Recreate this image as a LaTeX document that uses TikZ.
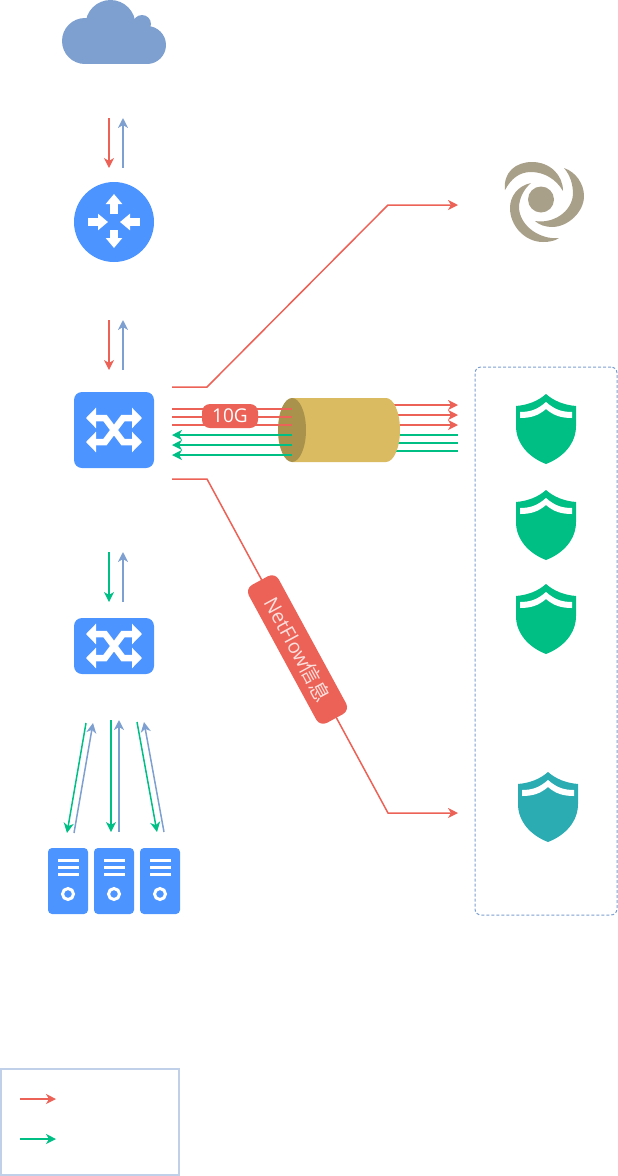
\documentclass[tikz,border=0pt]{standalone}
\usepackage{fontspec}
\setmainfont{Open Sans}
\newfontfamily\cjk{Noto Sans CJK SC}
\usetikzlibrary{arrows.meta,shapes.geometric}
\definecolor{netblue}{HTML}{4C94FF}
\definecolor{softblue}{HTML}{7EA0D0}
\definecolor{linkred}{HTML}{EC6257}
\definecolor{linkgreen}{HTML}{00BF85}
\definecolor{shieldteal}{HTML}{2BACB3}
\definecolor{swirlgrey}{HTML}{A9A08A}
\definecolor{pipegold}{HTML}{DABB62}
\definecolor{pipedark}{HTML}{A8924C}
\definecolor{legendline}{HTML}{BFD0E8}
\tikzset{
  flow/.style={line width=1.5pt,-{Stealth[length=10pt,width=10pt,inset=3pt]}},
  redflow/.style={flow,draw=linkred,color=linkred},
  greenflow/.style={flow,draw=linkgreen,color=linkgreen},
  blueflow/.style={flow,draw=softblue,color=softblue},
  redline/.style={line width=1.5pt,draw=linkred},
  greenline/.style={line width=1.5pt,draw=linkgreen},
  switchbox/.style={fill=netblue,rounded corners=8pt,minimum width=80pt,inner sep=0pt},
  serverbox/.style={fill=netblue,rounded corners=4pt,minimum width=40pt,minimum height=66pt,inner sep=0pt},
  tagbox/.style={fill=linkred,text=white,rounded corners=8pt,inner sep=0pt},
  whitearrow/.style={draw=white,line width=8pt,-{Triangle[length=10pt,width=16pt]}},
  crossarrow/.style={draw=white,line width=6.5pt,{Triangle[length=10pt,width=20pt]}-{Triangle[length=10pt,width=20pt]}},
  pics/crossglyph/.style={code={
    \draw[crossarrow] (-28,-#1) -- (-9,-#1) -- (9,#1) -- (28,#1);
    \draw[crossarrow] (-28,#1) -- (-9,#1) -- (9,-#1) -- (28,-#1);
  }},
  pics/shieldglyph/.style={code={
    \fill[#1] (0,-35) .. controls (-8,-28) and (-18,-24) .. (-30,-23) -- (-30,-3)
      .. controls (-30,14) and (-18,28) .. (0,35)
      .. controls (18,28) and (30,14) .. (30,-3) -- (30,-23)
      .. controls (18,-24) and (8,-28) .. (0,-35) -- cycle;
    \fill[white] (-26,-17) .. controls (-15,-17) and (-8,-20) .. (0,-27)
      .. controls (8,-20) and (15,-17) .. (26,-17) -- (26,-11)
      .. controls (14,-11) and (7,-14) .. (0,-20)
      .. controls (-7,-14) and (-14,-11) .. (-26,-11) -- cycle;
  }}
}
\begin{document}
\begin{tikzpicture}[x=1pt,y=-1pt]
  \useasboundingbox (0,0) rectangle (618,1176);
  % free ends
  \draw
    (109,118) coordinate (a1) (109,168) coordinate (a2)
    (123,168) coordinate (b1) (123,118) coordinate (b2)
    (109,320) coordinate (a3) (109,370) coordinate (a4)
    (123,370) coordinate (b3) (123,320) coordinate (b4)
    (109,552) coordinate (g1) (109,602) coordinate (g2)
    (123,602) coordinate (b5) (123,552) coordinate (b6)
    (86,723) coordinate (g3) (67,833) coordinate (g4)
    (74,833) coordinate (b7) (93,723) coordinate (b8)
    (111,720) coordinate (g5) (111,832) coordinate (g6)
    (119,832) coordinate (b9) (119,720) coordinate (b10)
    (137,722) coordinate (g7) (157,832) coordinate (g8)
    (164,832) coordinate (b11) (144,722) coordinate (b12)
    (172,387) coordinate (t1) (207,387) coordinate (t2)
    (388,205) coordinate (t3) (458,205) coordinate (t4)
    (172,479) coordinate (n1) (207,479) coordinate (n2)
    (388,813) coordinate (n3) (458,813) coordinate (n4)
    (20,1099) coordinate (k1) (56,1099) coordinate (k2)
    (20,1139) coordinate (k3) (56,1139) coordinate (k4);

  % cloud
  \node[circle,fill=softblue,minimum size=50pt,inner sep=0pt] (cloudtop) at (110.5,25) {};
  \fill[softblue] (142,24) circle (9);
  \fill[softblue] (85,41) circle (23);
  \fill[softblue] (147,45) circle (19);
  \fill[softblue] (85,36) rectangle (147,64);

  % router
  \node[circle,fill=netblue,minimum size=80pt,inner sep=0pt] (router) at (114,222) {};
  \draw[whitearrow] (114,214) -- (114,194);
  \draw[whitearrow] (114,230) -- (114,248);
  \draw[whitearrow] (88,222) -- (108,222);
  \draw[whitearrow] (140,222) -- (120,222);

  % switches
  \node[switchbox,minimum height=76pt] (core) at (114,430) {};
  \pic at (114,430) {crossglyph=12};
  \node[switchbox,minimum height=56pt] (access) at (114,646) {};
  \pic at (114,646) {crossglyph=12};

  % servers
  \foreach \i/\x in {1/68,2/114,3/160} {
    \node[serverbox] (srv\i) at (\x,881) {};
    \foreach \y in {860,867,874}
      \fill[white] (\x-10.5,\y-1.5) rectangle (\x+10.5,\y+1.5);
    \draw[white,line width=3pt] (\x,894) circle (5.5);
  }

  % swirl
  \node[circle,fill=swirlgrey,minimum size=26pt,inner sep=0pt] (swirl) at (541,199.5) {};
  \fill[swirlgrey] (505,190) .. controls (503,172) and (516,162) .. (532,162)
    .. controls (550,162) and (563,175) .. (563,191)
    .. controls (556,179) and (544,172) .. (531,172)
    .. controls (519,172) and (511,179) .. (505,190) -- cycle;
  \fill[swirlgrey] (564,168) .. controls (576,172) and (584,184) .. (584,196)
    .. controls (584,212) and (568,227) .. (552,227)
    .. controls (546,227) and (539,225) .. (535,221)
    .. controls (553,224) and (572,212) .. (573,194)
    .. controls (573,184) and (570,175) .. (564,168) -- cycle;
  \fill[swirlgrey] (531,183) .. controls (517,186) and (510,197) .. (510,208)
    .. controls (510,226) and (525,242) .. (543,242)
    .. controls (549,242) and (555,241) .. (559,238)
    .. controls (540,240) and (520,226) .. (519,208)
    .. controls (519,198) and (524,189) .. (531,183) -- cycle;

  % arrows on the left
  \begin{scope}
    \draw[redflow] (a1) to (a2);
    \draw[blueflow] (b1) to (b2);
    \draw[redflow] (a3) to (a4);
    \draw[blueflow] (b3) to (b4);
    \draw[greenflow] (g1) to (g2);
    \draw[blueflow] (b5) to (b6);
    \draw[greenflow] (g3) to (g4);
    \draw[blueflow] (b7) to (b8);
    \draw[greenflow] (g5) to (g6);
    \draw[blueflow] (b9) to (b10);
    \draw[greenflow] (g7) to (g8);
    \draw[blueflow] (b11) to (b12);
  \end{scope}

  % long red links
  \draw[redflow] (t1) -- (t2) -- (t3) -- (t4);
  \draw[redflow] (n1) -- (n2) -- (n3) -- (n4);

  % pipe, links behind it first
  \foreach \y in {405,415,425} {
    \coordinate (pr\y) at (340,\y);
    \coordinate (qr\y) at (458,\y);
    \draw[redflow] (pr\y) to (qr\y);
  }
  \foreach \y in {435,443,451} {
    \coordinate (pg\y) at (340,\y);
    \coordinate (qg\y) at (458,\y);
    \draw[greenline] (pg\y) to (qg\y);
  }
  \fill[pipegold] (292,398) -- (386,398) arc[start angle=-90,end angle=90,x radius=14,y radius=32] -- (292,462) -- cycle;
  \node[ellipse,fill=pipedark,minimum width=28pt,minimum height=64pt,inner sep=0pt] (pipe) at (292,430) {};
  \foreach \y in {409,417,425} {
    \coordinate (lr\y) at (172,\y);
    \coordinate (mr\y) at (292,\y);
    \draw[redline] (lr\y) to (mr\y);
  }
  \foreach \y in {435,445,455} {
    \coordinate (mg\y) at (292,\y);
    \coordinate (lg\y) at (172,\y);
    \draw[greenflow] (mg\y) to (lg\y);
  }

  % labels
  \node[tagbox,minimum width=56pt,minimum height=24pt,font=\fontsize{19}{22}\selectfont] (speed) at (230,416) {10G};
  \node[tagbox,minimum width=157pt,minimum height=34pt,rotate=-61.5,align=center,text opacity=0.8,font=\fontsize{20}{24}\selectfont] (netflow) at (297.5,649.5) {NetFlow{\cjk 信息}};

  % security group
  \node[draw=softblue,dash pattern=on 3pt off 2pt,line width=1pt,rounded corners=6pt,minimum width=142pt,minimum height=548pt,inner sep=0pt] (group) at (546,641) {};
  \pic at (546,429) {shieldglyph=linkgreen};
  \pic at (546,525) {shieldglyph=linkgreen};
  \pic at (546,619) {shieldglyph=linkgreen};
  \pic at (548,807) {shieldglyph=shieldteal};

  % legend
  \node[draw=legendline,line width=1.5pt,minimum width=178pt,minimum height=106pt,inner sep=0pt] (legend) at (90,1122) {};
  \draw[redflow] (k1) to (k2);
  \draw[greenflow] (k3) to (k4);
\end{tikzpicture}
\end{document}
